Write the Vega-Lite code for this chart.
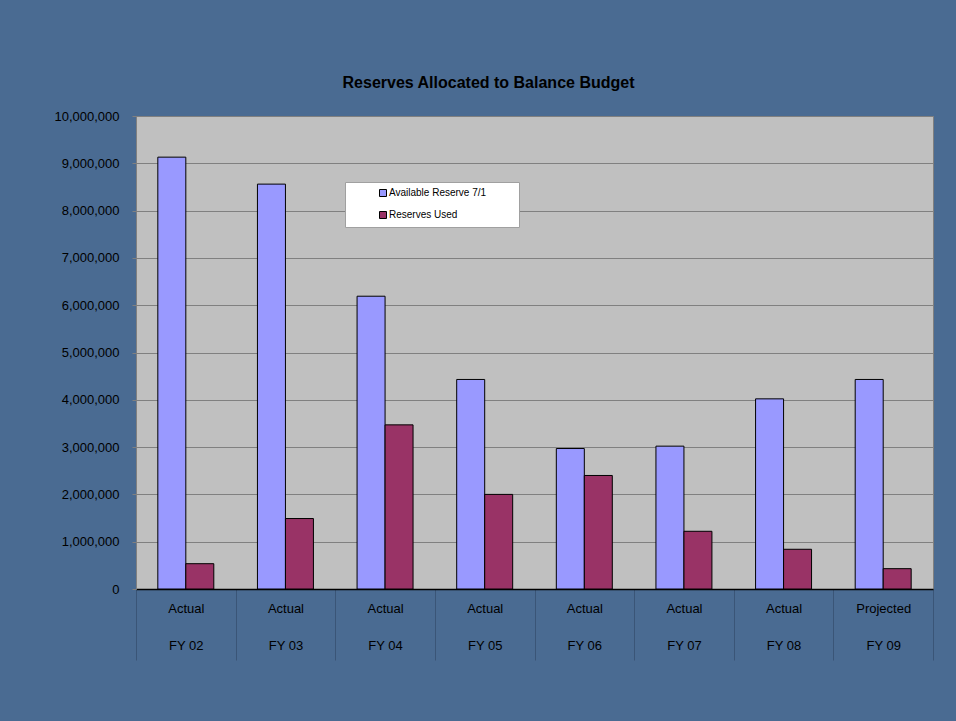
{
  "$schema": "https://vega.github.io/schema/vega-lite/v6.json",
  "autosize": {"type": "none"},
  "padding": {"left": 136, "top": 116, "right": 23, "bottom": 132},
  "width": 797,
  "height": 473,
  "background": "#4A6B92",
  "title": {
    "text": "Reserves Allocated to Balance Budget",
    "font": "Liberation Sans",
    "fontSize": 16,
    "fontWeight": "bold",
    "color": "#000000",
    "anchor": "middle",
    "dx": -46,
    "offset": 19
  },
  "data": {
    "values": [
      {"period": "Actual|FY 02", "series": "Available Reserve 7/1", "amount": 9130000},
      {"period": "Actual|FY 02", "series": "Reserves Used", "amount": 535000},
      {"period": "Actual|FY 03", "series": "Available Reserve 7/1", "amount": 8560000},
      {"period": "Actual|FY 03", "series": "Reserves Used", "amount": 1490000},
      {"period": "Actual|FY 04", "series": "Available Reserve 7/1", "amount": 6190000},
      {"period": "Actual|FY 04", "series": "Reserves Used", "amount": 3470000},
      {"period": "Actual|FY 05", "series": "Available Reserve 7/1", "amount": 4430000},
      {"period": "Actual|FY 05", "series": "Reserves Used", "amount": 2000000},
      {"period": "Actual|FY 06", "series": "Available Reserve 7/1", "amount": 2970000},
      {"period": "Actual|FY 06", "series": "Reserves Used", "amount": 2400000},
      {"period": "Actual|FY 07", "series": "Available Reserve 7/1", "amount": 3020000},
      {"period": "Actual|FY 07", "series": "Reserves Used", "amount": 1220000},
      {"period": "Actual|FY 08", "series": "Available Reserve 7/1", "amount": 4020000},
      {"period": "Actual|FY 08", "series": "Reserves Used", "amount": 840000},
      {"period": "Projected|FY 09", "series": "Available Reserve 7/1", "amount": 4430000},
      {"period": "Projected|FY 09", "series": "Reserves Used", "amount": 430000}
    ]
  },
  "mark": {"type": "bar", "stroke": "#000000", "strokeWidth": 1},
  "encoding": {
    "x": {
      "field": "period",
      "type": "nominal",
      "sort": null,
      "scale": {"paddingInner": 0, "paddingOuter": 0},
      "axis": {
        "title": null,
        "labelAngle": 0,
        "labelExpr": "isString(datum.value) ? split(datum.value, '|') : ''",
        "labelFont": "Liberation Sans",
        "labelFontSize": 13,
        "labelColor": "#000000",
        "labelLineHeight": 37,
        "labelPadding": -58,
        "tickBand": "extent",
        "tickSize": 71,
        "tickColor": "#3A5577",
        "domainColor": "#000000",
        "domainWidth": 1.5,
        "grid": false
      }
    },
    "xOffset": {
      "field": "series",
      "type": "nominal",
      "sort": ["Available Reserve 7/1", "Reserves Used"],
      "scale": {"paddingInner": 0, "paddingOuter": 0.78}
    },
    "y": {
      "field": "amount",
      "type": "quantitative",
      "scale": {"domain": [0, 10000000], "nice": false},
      "axis": {
        "title": null,
        "tickCount": 10,
        "format": ",.0f",
        "labelFont": "Liberation Sans",
        "labelFontSize": 13,
        "labelColor": "#000000",
        "labelPadding": 13,
        "tickSize": 4,
        "tickColor": "#808080",
        "domainColor": "#808080",
        "gridColor": "#808080",
        "gridWidth": 1
      }
    },
    "color": {
      "field": "series",
      "type": "nominal",
      "scale": {"domain": ["Available Reserve 7/1", "Reserves Used"], "range": ["#9999FF", "#993366"]},
      "legend": {
        "title": "WW",
        "titleOrient": "right",
        "titleFontSize": 12,
        "titleOpacity": 0,
        "titlePadding": 4,
        "orient": "none",
        "legendX": 209,
        "legendY": 66,
        "fillColor": "#FFFFFF",
        "strokeColor": "#A0A0A0",
        "padding": 6,
        "symbolType": "square",
        "symbolSize": 49,
        "symbolStrokeColor": "#000000",
        "symbolStrokeWidth": 1,
        "symbolOffset": 27,
        "labelOffset": 1,
        "labelFont": "Liberation Sans",
        "labelFontSize": 10,
        "labelColor": "#000000",
        "rowPadding": 10
      }
    }
  },
  "config": {
    "view": {"fill": "#C0C0C0", "stroke": "#808080", "strokeWidth": 1}
  }
}
